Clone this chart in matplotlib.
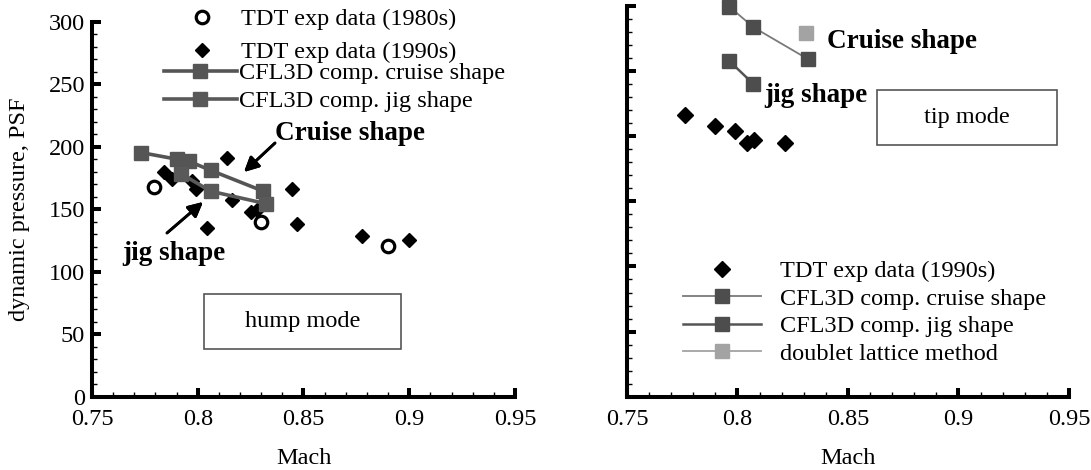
import matplotlib
matplotlib.use('Agg')
import matplotlib.pyplot as plt
from matplotlib.ticker import MultipleLocator, FuncFormatter
from matplotlib.patches import Rectangle

# hump mode (left panel)
tdt80_mach = [0.7794, 0.8297, 0.8898]
tdt80_q = [168.0, 139.5, 120.6]
tdt90_mach = [0.7841, 0.7880, 0.7975, 0.7990, 0.8042, 0.8140, 0.8164,
              0.8250, 0.8282, 0.8447, 0.8470, 0.8777, 0.9000]
tdt90_q = [179.9, 174.6, 173.0, 166.6, 134.7, 191.0, 157.3,
           148.0, 149.3, 166.6, 137.9, 128.5, 125.3]
cruise_mach = [0.7731, 0.7904, 0.7959, 0.8061, 0.8310]
cruise_q = [195.4, 190.0, 188.4, 181.2, 164.5]
jig_mach = [0.7920, 0.8061, 0.8321]
jig_q = [178.6, 164.5, 154.6]

# tip mode (right panel)
tip90_mach = [0.7762, 0.7898, 0.7989, 0.8042, 0.8075, 0.8215]
tip90_q = [216.3, 207.9, 204.0, 194.6, 197.1, 194.6]
tip_cruise_mach = [0.7963, 0.8072, 0.8320]
tip_cruise_q = [299.5, 283.7, 259.1]
tip_jig_mach = [0.7963, 0.8072]
tip_jig_q = [257.8, 240.1]
dlm_mach = [0.8310]
dlm_q = [279.5]

W, H = 1091, 470
FS = 17.5

plt.rcParams['font.family'] = ['Liberation Serif', 'DejaVu Serif']
plt.rcParams['font.size'] = FS


def fpt(x, y):
    # pixel position (from top left) -> figure fraction
    return (x / W, 1 - y / H)


fig = plt.figure(figsize=(W / 100, H / 100), dpi=100)
ax1 = fig.add_axes([92 / W, 1 - 397 / H, (515 - 92) / W, (397 - 21.7) / H])
ax2 = fig.add_axes([627 / W, 1 - 396.7 / H, (1069 - 627) / W, (396.7 - 6) / H])

for ax in (ax1, ax2):
    ax.set_xlim(0.75, 0.95)
    ax.set_ylim(0, 300)
    ax.spines['top'].set_visible(False)
    ax.spines['right'].set_visible(False)
    for s in ('left', 'bottom'):
        ax.spines[s].set_linewidth(2.9)
    ax.xaxis.set_major_locator(MultipleLocator(0.05))
    ax.xaxis.set_minor_locator(MultipleLocator(0.01))
    ax.yaxis.set_major_locator(MultipleLocator(50))
    ax.yaxis.set_minor_locator(MultipleLocator(10))
    ax.xaxis.set_major_formatter(FuncFormatter(lambda v, p: '%g' % round(v, 3)))
    ax.tick_params(which='major', direction='in', length=6.5, width=2.9, pad=5,
                   labelsize=FS)
    ax.tick_params(axis='x', which='major', pad=8.5)
    ax.tick_params(which='minor', direction='in', length=3.6, width=1.0)
    ax.set_xlabel('Mach', fontsize=FS, labelpad=13)

ax1.set_ylabel('dynamic pressure, PSF', fontsize=FS, labelpad=13)
ax2.tick_params(axis='y', labelleft=False)

# left panel
h80, = ax1.plot(tdt80_mach, tdt80_q, 'o', ms=9, mfc='white', mec='black',
                mew=2.3, ls='none', zorder=4, label='TDT exp data (1980s)')
h90, = ax1.plot(tdt90_mach, tdt90_q, 'D', ms=6.8, color='black', ls='none',
                zorder=2, label='TDT exp data (1990s)')
hc, = ax1.plot(cruise_mach, cruise_q, '-s', color='#555555', lw=2.6, ms=9.4,
               zorder=3, label='CFL3D comp. cruise shape')
hj, = ax1.plot(jig_mach, jig_q, '-s', color='#595959', lw=2.6, ms=9.4,
               zorder=3, label='CFL3D comp. jig shape')

leg1 = ax1.legend(handles=[h80, h90], loc='upper left', bbox_to_anchor=fpt(166, 8),
                  bbox_transform=fig.transFigure, frameon=False, borderpad=0,
                  borderaxespad=0, handlelength=3.0, handletextpad=0.07,
                  labelspacing=0.46, fontsize=FS)
ax1.add_artist(leg1)
ax1.legend(handles=[hc, hj], loc='upper left', bbox_to_anchor=fpt(164, 62),
           bbox_transform=fig.transFigure, frameon=False, borderpad=0,
           borderaxespad=0, handlelength=3.0, handletextpad=0.07,
           labelspacing=0.26, fontsize=FS)

# right panel
r90, = ax2.plot(tip90_mach, tip90_q, 'D', ms=7.8, color='black', ls='none',
                zorder=2, label='TDT exp data (1990s)')
rc, = ax2.plot(tip_cruise_mach, tip_cruise_q, '-s', color='#7a7a7a', lw=1.3,
               ms=9.4, mfc='#4d4d4d', mec='#4d4d4d', clip_on=False, zorder=3,
               label='CFL3D comp. cruise shape')
rj, = ax2.plot(tip_jig_mach, tip_jig_q, '-s', color='#555555', lw=1.8,
               ms=9.4, mfc='#4d4d4d', mec='#4d4d4d', zorder=3,
               label='CFL3D comp. jig shape')
rd, = ax2.plot(dlm_mach, dlm_q, '-s', color='#a3a3a3', lw=1.3, ms=9.4,
               zorder=3, label='doublet lattice method')
ax2.legend(handles=[r90, rc, rj, rd], loc='upper left',
           bbox_to_anchor=fpt(683, 260), bbox_transform=fig.transFigure,
           frameon=False, borderpad=0, borderaxespad=0, handlelength=3.2,
           handletextpad=0.8, labelspacing=0.23, fontsize=FS)

# annotations
bold = dict(fontsize=19.5, fontweight='bold', va='center', ha='left')
fig.text(*fpt(275, 133), 'Cruise shape', **bold)
fig.text(*fpt(122, 253), 'jig shape', **bold)
fig.text(*fpt(827, 42), 'Cruise shape', **bold)
fig.text(*fpt(764, 96), 'jig shape', **bold)
arrow = dict(arrowstyle='-|>', lw=2.0, color='black', mutation_scale=22,
             shrinkA=0, shrinkB=0)
fig.add_artist(plt.annotate('', xy=fpt(244, 172), xytext=fpt(275, 143),
                            xycoords='figure fraction', arrowprops=arrow))
fig.add_artist(plt.annotate('', xy=fpt(203, 202), xytext=fpt(167, 233),
                            xycoords='figure fraction', arrowprops=arrow))

for (x0, y0, x1, y1, txt) in [(204, 294, 401, 349, 'hump mode'),
                              (877, 90, 1057, 145, 'tip mode')]:
    fig.add_artist(Rectangle(fpt(x0, y1), (x1 - x0) / W, (y1 - y0) / H,
                             transform=fig.transFigure, fill=False,
                             ec='#555555', lw=1.2))
    fig.text(*fpt((x0 + x1) / 2, (y0 + y1) / 2), txt, ha='center', va='center',
             fontsize=FS)

fig.savefig('out.png', dpi=100)
